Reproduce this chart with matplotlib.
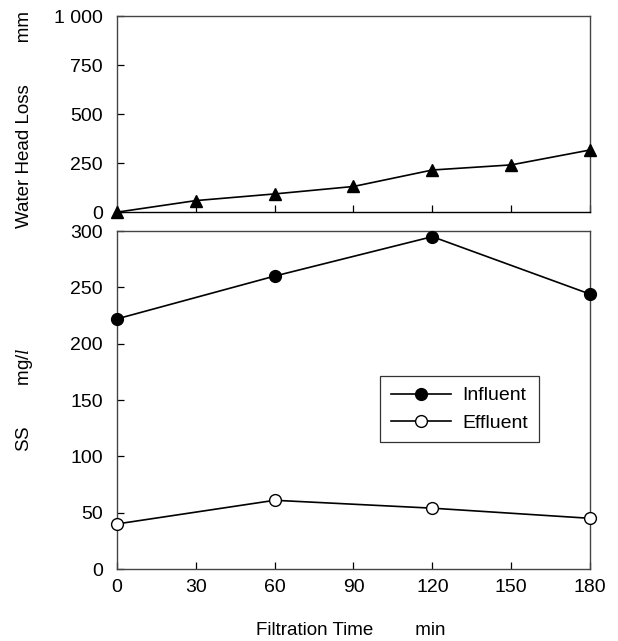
import numpy as np
import matplotlib
matplotlib.use("Agg")
import matplotlib.pyplot as plt

plt.rcParams['font.family'] = ['Liberation Sans', 'DejaVu Sans']
plt.rcParams['mathtext.fontset'] = 'custom'
plt.rcParams['mathtext.rm'] = 'Liberation Sans'
plt.rcParams['mathtext.it'] = 'Liberation Serif:italic'

# --- DATA ---
time_head = [0, 30, 60, 90, 120, 150, 180]
head_loss = [0, 59, 93, 131, 215, 241, 317]

time_ss = [0, 60, 120, 180]
influent = [222, 260, 295, 244]
effluent = [40, 61, 54, 45]

x_ticks = [0, 30, 60, 90, 120, 150, 180]
head_ticks = [0, 250, 500, 750, 1000]
head_tick_labels = ['0', '250', '500', '750', '1 000']
ss_ticks = [0, 50, 100, 150, 200, 250, 300]

FS = 14
LFS = 13.5
SPINE = '#444444'

fig = plt.figure(figsize=(6.18, 6.41), dpi=100)
ax_top = fig.add_axes([0.1893, 0.669, 0.7654, 0.306])
ax_bot = fig.add_axes([0.1893, 0.1123, 0.7654, 0.5273])

# --- TOP PANEL: head loss ---
ax_top.plot(time_head, head_loss, color='black', lw=1.2, marker='^',
            markersize=9, markerfacecolor='black', clip_on=False, zorder=3)
ax_top.set_xlim(0, 180)
ax_top.set_ylim(0, 1000)
ax_top.set_xticks(x_ticks)
ax_top.set_xticklabels([])
ax_top.set_yticks(head_ticks)
ax_top.set_yticklabels(head_tick_labels)

# --- BOTTOM PANEL: SS ---
ax_bot.plot(time_ss, influent, color='black', lw=1.2, marker='o',
            markersize=8.5, markerfacecolor='black', clip_on=False,
            zorder=3, label='Influent')
ax_bot.plot(time_ss, effluent, color='black', lw=1.2, marker='o',
            markersize=8.5, markerfacecolor='white', markeredgewidth=1.0,
            clip_on=False, zorder=3, label='Effluent')
ax_bot.set_xlim(0, 180)
ax_bot.set_ylim(0, 300)
ax_bot.set_xticks(x_ticks)
ax_bot.set_yticks(ss_ticks)

for ax in (ax_top, ax_bot):
    ax.tick_params(direction='in', length=5, width=0.9, labelsize=FS,
                   top=False, right=False, pad=10)
    for s in ax.spines.values():
        s.set_color(SPINE)
        s.set_linewidth(1.0)
ax_top.spines['bottom'].set_color('black')
ax_bot.tick_params(axis='x', pad=7)

leg = ax_bot.legend(loc='upper left', bbox_to_anchor=(0.556, 0.571),
                    fontsize=FS, frameon=True, fancybox=False,
                    edgecolor='black', borderpad=0.55, borderaxespad=0,
                    handlelength=3.1, handletextpad=0.6, labelspacing=0.5)
leg.get_frame().set_linewidth(0.9)

fig.text(0.04, 0.813, 'Water Head Loss        mm', rotation=90,
         ha='center', va='center', fontsize=LFS)
fig.text(0.04, 0.376, r'SS        mg/$\it{l}$', rotation=90, ha='center',
         va='center', fontsize=LFS)
fig.text(0.568, 0.017, 'Filtration Time        min', ha='center',
         va='center', fontsize=LFS)

fig.savefig('out.png', dpi=100)
